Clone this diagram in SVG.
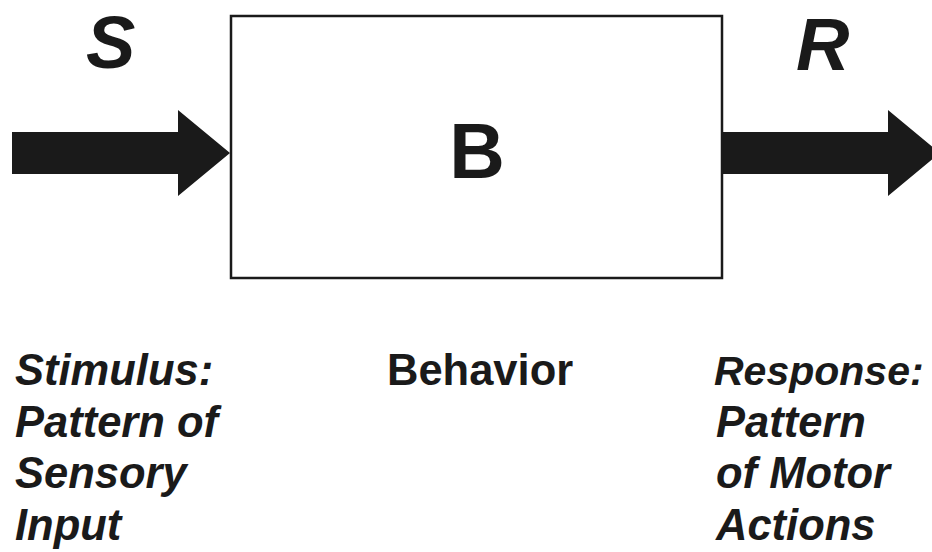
<svg xmlns="http://www.w3.org/2000/svg" width="932" height="552" viewBox="0 0 932 552">
<style>
.lbl{font-family:"Liberation Sans",Arial,sans-serif;font-weight:bold;fill:#1a1a1a}
.it{font-style:italic}
.big{font-size:74px}
.txt{font-size:43.5px}
.arrow{fill:#1a1a1a}
</style>
<rect width="932" height="552" fill="#ffffff"/>
<g id="connectors">
<polygon class="arrow" points="12,132 178,132 178,110 230,153 178,196 178,174 12,174"/>
<polygon class="arrow" points="723,132 888,132 888,110 940,153 888,196 888,174 723,174"/>
</g>
<g id="node-B">
<rect x="231" y="16" width="491" height="262" fill="#ffffff" stroke="#1a1a1a" stroke-width="2.5"/>
<text class="lbl big" x="477" y="178" style="font-size:77px" text-anchor="middle">B</text>
</g>
<g id="label-S">
<text class="lbl big it" x="86" y="68">S</text>
</g>
<g id="label-R">
<text class="lbl big it" x="796" y="70">R</text>
</g>
<g id="stimulus">
<text class="lbl txt it" x="15" y="385">Stimulus:</text>
<text class="lbl txt it" x="15" y="437">Pattern of</text>
<text class="lbl txt it" x="15" y="488">Sensory</text>
<text class="lbl txt it" x="15" y="540">Input</text>
</g>
<g id="behavior">
<text class="lbl txt" x="387" y="385">Behavior</text>
</g>
<g id="response">
<text class="lbl txt it" x="714" y="385" style="font-size:41px">Response:</text>
<text class="lbl txt it" x="716" y="437">Pattern</text>
<text class="lbl txt it" x="716" y="488">of Motor</text>
<text class="lbl txt it" x="716" y="540">Actions</text>
</g>
</svg>
